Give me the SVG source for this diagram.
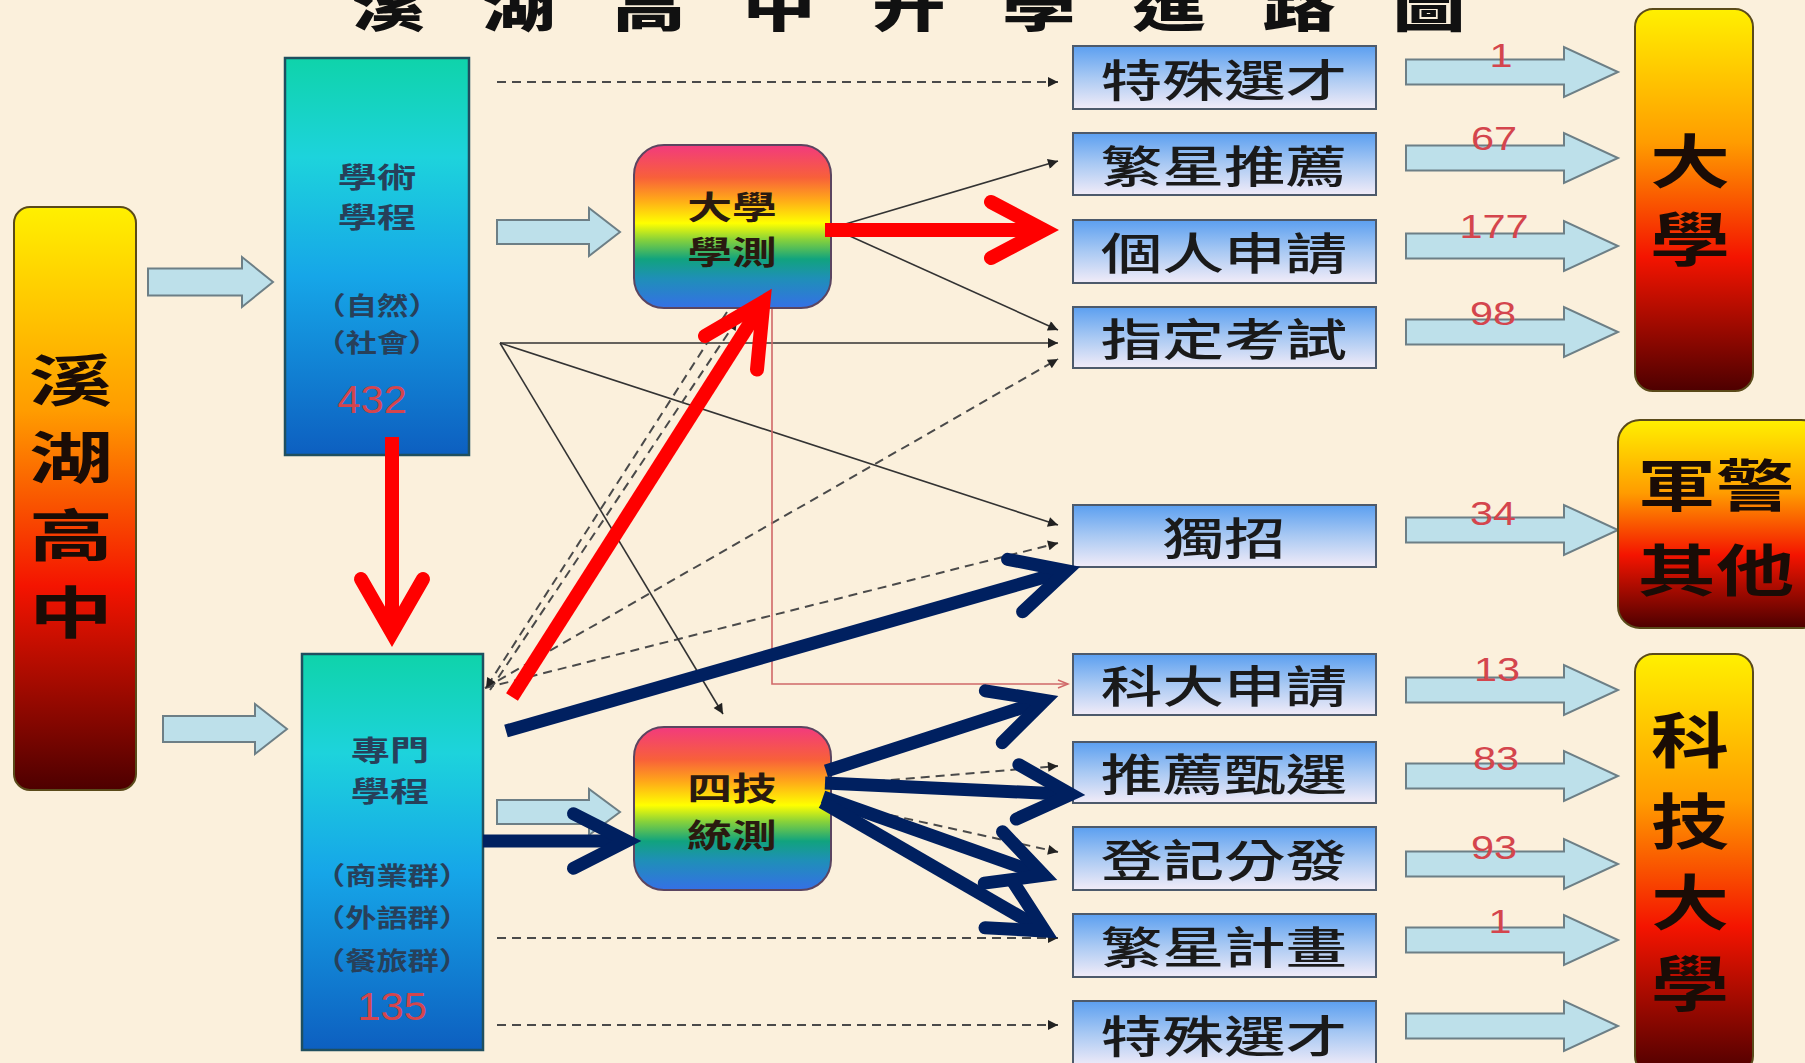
<svg xmlns="http://www.w3.org/2000/svg" width="1805" height="1063" viewBox="0 0 1805 1063">
<defs>
<style>
.cjk{font-family:"Noto Sans CJK TC","Noto Sans CJK JP",sans-serif;text-anchor:middle}
.title{font-size:54px;font-weight:900;fill:#111}
.big{font-size:62px;font-weight:700;fill:#1a0c06}
.lbl{font-size:44px;font-weight:500;fill:#1a1a1a}
.prog{font-size:28px;font-weight:700;fill:#27405a}
.grp{font-size:25px;font-weight:700;fill:#27405a}
.exam{font-size:32px;font-weight:700;fill:#2a1a10}
.num{font-family:"Liberation Sans",Arial,sans-serif;text-anchor:middle;fill:#d4454d}
.warm{fill:url(#gWarm);stroke:#5a4a1a;stroke-width:2}
.blue{fill:url(#gBlue);stroke:#1f4f5f;stroke-width:2.5}
.rb{fill:url(#gRain);stroke:#5b4560;stroke-width:2}
.box{fill:url(#gBox);stroke:#4d5a6b;stroke-width:2}
.blk{fill:#bde0ea;stroke:#6d7f86;stroke-width:2}
.thin{fill:none;stroke:#333;stroke-width:1.6;marker-end:url(#ah)}
.dash{fill:none;stroke:#4a4a4a;stroke-width:2;stroke-dasharray:9 6;marker-end:url(#ah)}
.redthin{fill:none;stroke:#d06868;stroke-width:1.6;marker-end:url(#ahr)}
.red{fill:none;stroke:#ff0000;stroke-width:14}
.navy{fill:none;stroke:#002060;stroke-width:13}
.head{stroke-linecap:round;stroke-linejoin:miter;stroke-miterlimit:10}
</style>
<linearGradient id="gWarm" x1="0" y1="0" x2="0" y2="1">
<stop offset="0" stop-color="#fff000"/><stop offset="0.35" stop-color="#ff9c00"/><stop offset="0.65" stop-color="#f41400"/><stop offset="1" stop-color="#4d0000"/>
</linearGradient>
<linearGradient id="gBlue" x1="0" y1="0" x2="0" y2="1">
<stop offset="0" stop-color="#0fd3aa"/><stop offset="0.25" stop-color="#1dd3dc"/><stop offset="0.55" stop-color="#16a6e8"/><stop offset="1" stop-color="#0d5fc0"/>
</linearGradient>
<linearGradient id="gBox" x1="0" y1="0" x2="0" y2="1">
<stop offset="0" stop-color="#5b9ff0"/><stop offset="0.5" stop-color="#a9c9f3"/><stop offset="1" stop-color="#f2ecf8"/>
</linearGradient>
<linearGradient id="gRain" x1="0" y1="0" x2="0" y2="1">
<stop offset="0" stop-color="#f23a7e"/><stop offset="0.2" stop-color="#f8603a"/><stop offset="0.33" stop-color="#ffa51a"/><stop offset="0.48" stop-color="#ffff00"/><stop offset="0.58" stop-color="#88d23a"/><stop offset="0.7" stop-color="#11a37e"/><stop offset="0.82" stop-color="#1f8fb8"/><stop offset="1" stop-color="#3570e6"/>
</linearGradient>
<marker id="ah" viewBox="0 0 10 10" refX="10" refY="5" markerWidth="13" markerHeight="10" markerUnits="userSpaceOnUse" orient="auto"><path d="M0,0 L10,5 L0,10 Z" fill="#222"/></marker>
<marker id="ahr" viewBox="0 0 10 10" refX="10" refY="5" markerWidth="13" markerHeight="10" markerUnits="userSpaceOnUse" orient="auto"><path d="M0,1 L10,5 L0,9" fill="none" stroke="#d06868" stroke-width="1.5"/></marker>
<path id="barrow" d="M0,-12.5 H158 V-25 L212,0 L158,25 V12.5 H0 Z"/>
</defs>

<rect x="0" y="0" width="1805" height="1063" fill="#fbf0dc"/>

<g id="title">
<text class="cjk title" transform="scale(1.35,1)" x="288.1 384.4 480.7 577 673.3 769.6 865.9 962.2 1058.5" y="27">溪湖高中升學進路圖</text>
</g>

<g id="connectors">
<path class="dash" d="M497,82 L1058,82"/>
<path class="thin" d="M832,228 L1058,161"/>
<path class="thin" d="M832,228 L1058,330"/>
<path class="thin" d="M500,343 L1058,343"/>
<path class="dash" d="M485,688 L1058,359"/>
<path class="thin" d="M500,343 L1058,525"/>
<path class="dash" d="M485,688 L1058,543"/>
<path class="thin" d="M500,343 L723,714"/>
<path class="dash" d="M490,690 L737,320"/>
<path class="dash" d="M727,312 L486,688"/>
<path class="dash" d="M831,785 L1058,766"/>
<path class="dash" d="M831,802 L1058,852"/>
<path class="dash" d="M497,938 L1058,938"/>
<path class="dash" d="M497,1025 L1058,1025"/>
<path class="redthin" d="M772,308 L772,684 L1068,684"/>
</g>

<g id="block-arrows">
<path class="blk" d="M148,268.5 H242 V257 L273,282 L242,307 V295.5 H148 Z"/>
<path class="blk" d="M163,716 H255 V704 L287,729 L255,754 V742 H163 Z"/>
<path class="blk" d="M497,220 H589 V208 L620,232 L589,256 V244 H497 Z"/>
<path class="blk" d="M497,800 H589 V789 L620,812 L589,835 V824 H497 Z"/>
<use href="#barrow" class="blk" x="1406" y="72"/>
<use href="#barrow" class="blk" x="1406" y="158"/>
<use href="#barrow" class="blk" x="1406" y="246"/>
<use href="#barrow" class="blk" x="1406" y="332"/>
<use href="#barrow" class="blk" x="1406" y="530"/>
<use href="#barrow" class="blk" x="1406" y="690"/>
<use href="#barrow" class="blk" x="1406" y="776"/>
<use href="#barrow" class="blk" x="1406" y="864"/>
<use href="#barrow" class="blk" x="1406" y="940"/>
<use href="#barrow" class="blk" x="1406" y="1026"/>
</g>

<g id="node-xihu">
<rect class="warm" x="14" y="207" width="122" height="583" rx="16"/>
<text class="cjk big" style="font-size:56px" transform="translate(71,401) scale(1.5,1)">溪</text>
<text class="cjk big" style="font-size:56px" transform="translate(71,478) scale(1.5,1)">湖</text>
<text class="cjk big" style="font-size:56px" transform="translate(71,556) scale(1.5,1)">高</text>
<text class="cjk big" style="font-size:56px" transform="translate(71,633) scale(1.5,1)">中</text>
</g>

<g id="node-academic">
<rect class="blue" x="285" y="58" width="184" height="397"/>
<text class="cjk prog" transform="translate(377,188) scale(1.4,1)">學術</text>
<text class="cjk prog" transform="translate(377,228) scale(1.4,1)">學程</text>
<text class="cjk grp" transform="translate(377,314.5) scale(1.25,1)">（自然）</text>
<text class="cjk grp" transform="translate(377,351.5) scale(1.25,1)">（社會）</text>
<text class="num" font-size="38" transform="translate(372,413) scale(1.1,1)">432</text>
</g>

<g id="node-vocational">
<rect class="blue" x="302" y="654" width="181" height="396"/>
<text class="cjk prog" transform="translate(390,761) scale(1.4,1)">專門</text>
<text class="cjk prog" transform="translate(390,802) scale(1.4,1)">學程</text>
<text class="cjk grp" transform="translate(392,884.5) scale(1.25,1)">（商業群）</text>
<text class="cjk grp" transform="translate(392,926.5) scale(1.25,1)">（外語群）</text>
<text class="cjk grp" transform="translate(392,969.5) scale(1.25,1)">（餐旅群）</text>
<text class="num" font-size="38" transform="translate(392,1020) scale(1.1,1)">135</text>
</g>

<g id="node-gsat">
<rect class="rb" x="634" y="145" width="197" height="163" rx="30"/>
<text class="cjk exam" transform="translate(732,219) scale(1.4,1)">大學</text>
<text class="cjk exam" transform="translate(732,264) scale(1.4,1)">學測</text>
</g>

<g id="node-tvs">
<rect class="rb" x="634" y="727" width="197" height="163" rx="30"/>
<text class="cjk exam" transform="translate(732,800) scale(1.4,1)">四技</text>
<text class="cjk exam" transform="translate(732,847) scale(1.4,1)">統測</text>
</g>

<g id="node-special1">
<rect class="box" x="1073" y="46" width="303" height="63"/>
<text class="cjk lbl" transform="translate(1224,96.7) scale(1.4,1)">特殊選才</text>
</g>
<g id="node-star">
<rect class="box" x="1073" y="133" width="303" height="62"/>
<text class="cjk lbl" transform="translate(1224,182.7) scale(1.4,1)">繁星推薦</text>
</g>
<g id="node-personal">
<rect class="box" x="1073" y="220" width="303" height="63"/>
<text class="cjk lbl" transform="translate(1224,270) scale(1.4,1)">個人申請</text>
</g>
<g id="node-designated">
<rect class="box" x="1073" y="307" width="303" height="61"/>
<text class="cjk lbl" transform="translate(1224,356) scale(1.4,1)">指定考試</text>
</g>
<g id="node-independent">
<rect class="box" x="1073" y="505" width="303" height="62"/>
<text class="cjk lbl" transform="translate(1224,555) scale(1.4,1)">獨招</text>
</g>
<g id="node-techapply">
<rect class="box" x="1073" y="654" width="303" height="61"/>
<text class="cjk lbl" transform="translate(1224,703) scale(1.4,1)">科大申請</text>
</g>
<g id="node-recommend">
<rect class="box" x="1073" y="742" width="303" height="61"/>
<text class="cjk lbl" transform="translate(1224,791) scale(1.4,1)">推薦甄選</text>
</g>
<g id="node-register">
<rect class="box" x="1073" y="827" width="303" height="63"/>
<text class="cjk lbl" transform="translate(1224,877) scale(1.4,1)">登記分發</text>
</g>
<g id="node-starplan">
<rect class="box" x="1073" y="914" width="303" height="63"/>
<text class="cjk lbl" transform="translate(1224,964) scale(1.4,1)">繁星計畫</text>
</g>
<g id="node-special2">
<rect class="box" x="1073" y="1001" width="303" height="66"/>
<text class="cjk lbl" transform="translate(1224,1053) scale(1.4,1)">特殊選才</text>
</g>

<g id="node-university">
<rect class="warm" x="1635" y="9" width="118" height="382" rx="18"/>
<text class="cjk big" style="font-size:58px" transform="translate(1690,183) scale(1.38,1)">大</text>
<text class="cjk big" style="font-size:58px" transform="translate(1690,261) scale(1.38,1)">學</text>
</g>
<g id="node-military">
<rect class="warm" x="1618" y="420" width="205" height="208" rx="22"/>
<text class="cjk big" style="font-size:56px" transform="translate(1716,506) scale(1.4,1)">軍警</text>
<text class="cjk big" style="font-size:56px" transform="translate(1716,591) scale(1.4,1)">其他</text>
</g>
<g id="node-techuniv">
<rect class="warm" x="1635" y="654" width="118" height="420" rx="18"/>
<text class="cjk big" style="font-size:60px" transform="translate(1690,763) scale(1.3,1)">科</text>
<text class="cjk big" style="font-size:60px" transform="translate(1690,844) scale(1.3,1)">技</text>
<text class="cjk big" style="font-size:60px" transform="translate(1690,925) scale(1.3,1)">大</text>
<text class="cjk big" style="font-size:60px" transform="translate(1690,1006) scale(1.3,1)">學</text>
</g>

<g id="numbers">
<text class="num" font-size="34" transform="translate(1501,67) scale(1.22,1)">1</text>
<text class="num" font-size="34" transform="translate(1494,150) scale(1.22,1)">67</text>
<text class="num" font-size="34" transform="translate(1494,238) scale(1.22,1)">177</text>
<text class="num" font-size="34" transform="translate(1493,325) scale(1.22,1)">98</text>
<text class="num" font-size="34" transform="translate(1493,525) scale(1.22,1)">34</text>
<text class="num" font-size="34" transform="translate(1497,681) scale(1.22,1)">13</text>
<text class="num" font-size="34" transform="translate(1496,770) scale(1.22,1)">83</text>
<text class="num" font-size="34" transform="translate(1494,859) scale(1.22,1)">93</text>
<text class="num" font-size="34" transform="translate(1500,933) scale(1.22,1)">1</text>
</g>

<g id="thick-arrows">
<path class="red" d="M392,437 L392,633"/>
<path class="red head" d="M361,579 L392,633 L423,579"/>
<path class="red" d="M512,697 L763.5,301.8"/>
<path class="red head" d="M705,336 L763.5,301.8 L757,369.5"/>
<path class="red" d="M825,230 L1044,230"/>
<path class="red head" d="M991,202 L1044,230 L991,258"/>
<path class="navy" d="M506,731 L1066.5,570.8"/>
<path class="navy head" d="M1007.6,559.3 L1066.5,570.8 L1022.6,611.7"/>
<path class="navy" d="M483,841 L627,841"/>
<path class="navy head" d="M573.5,813.8 L627,841 L573.5,868.2"/>
<path class="navy" d="M826,771 L1044.7,700.3"/>
<path class="navy head" d="M985.4,690.8 L1044.7,700.3 L1002.2,742.7"/>
<path class="navy" d="M825,783 L1071,794.4"/>
<path class="navy head" d="M1018.9,764.7 L1071,794.4 L1016.3,819.1"/>
<path class="navy" d="M823,797 L1043.8,875.3"/>
<path class="navy head" d="M1002.5,831.8 L1043.8,875.3 L984.3,883.1"/>
<path class="navy" d="M822,802 L1044.9,931"/>
<path class="navy head" d="M1012.3,880.6 L1044.9,931 L985,927.8"/>
</g>
</svg>
